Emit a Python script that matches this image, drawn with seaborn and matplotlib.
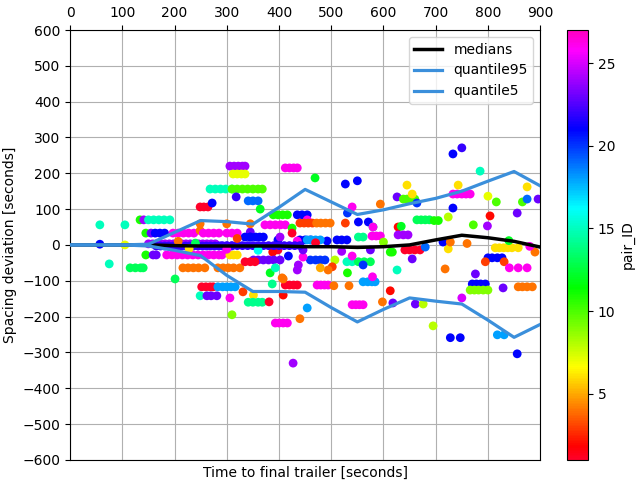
import numpy as np
import pandas as pd
import matplotlib
matplotlib.use("Agg")
import matplotlib.pyplot as plt
import seaborn as sns

# quantile / median curves (every 50 s)
curve_time = [0, 50, 100, 150, 200, 250, 300, 350, 400, 450, 500, 550, 600, 650, 700, 750, 800, 850, 900]
medians = [0, 0, 0, 0, -2, -3, -3, -3, -3, -5, -5, -7, -5, 0, 14, 27, 20, 10, -6]
quantile95 = [0, 0, 0, 2, 35, 68, 65, 58, 105, 155, 120, 85, 98, 115, 130, 150, 178, 205, 165]
quantile5 = [0, 0, 0, -3, -15, -30, -85, -130, -130, -132, -175, -215, -180, -148, -157, -165, -210, -258, -222]

# observed spacing deviations, grouped in runs of constant deviation per pair
run_times = [
    [57], [105], [134], [141], [150, 160, 170, 180, 191],
    [57], [105], [75], [115, 125, 135, 140], [201],
    [145], [155], [163, 172, 181], [197, 207, 217, 227, 237], [249], [255, 265, 275, 285], [300, 310, 320], [345], [345],
    [145], [159, 165], [185, 195, 205, 215, 225, 235, 245, 255, 265, 275, 285, 291], [306, 313, 320],
    [216, 226, 236, 246, 258], [283, 293, 303, 313, 325],
    [249, 256, 264], [272], [268, 278, 288, 298, 310], [310, 320, 330, 340, 350, 360, 368], [318],
    [306, 314, 322, 330, 335], [312, 320, 328, 335], [341, 350, 360], [364],
    [249], [300], [345], [373, 383, 393, 403, 412], [389, 398, 407, 416],
    [412, 420, 428, 435], [469], [527], [550], [594], [626], [645], [638, 645, 652, 660], [655],
    [540], [531], [435, 444, 454], [454], [440, 448, 456, 464], [472, 480, 489, 498],
    [552, 571], [527], [580], [628], [634], [628, 638, 647], [425],
    [552, 561], [578, 586, 594],
    [733], [750], [785], [743], [733, 741, 750, 758, 766], [664], [800], [816],
    [875], [866], [875], [896], [733], [804], [856],
    [664, 672, 680, 688], [697, 705], [724], [772], [799],
    [641, 650, 660, 670], [655], [724], [814, 822, 830, 838, 846, 858], [800, 808, 818, 827],
    [795], [831], [890], [718], [841, 858, 875], [776], [770, 778, 786, 795], [766, 774, 782, 791, 800],
    [829], [858, 866, 875, 885], [750], [661], [676], [695], [728, 747], [818, 831], [856],
    [460, 470, 479, 488], [507], [437], [446], [502], [494], [531], [530, 540], [552, 563, 575],
    [561, 570, 578, 584], [579], [626], [398], [388], [406], [412, 420, 428, 435], [408],
    [473, 480, 487, 494], [505], [534], [454], [540, 547, 554, 561], [598], [613], [618],
    [440], [393, 400, 408, 416], [427], [351, 360, 370, 380, 390, 402],
    [252, 260, 268, 274], [283, 292, 300, 308, 316], [249], [262, 270, 281],
    [331], [351], [341, 350, 360, 368], [381], [306], [310], [383], [393], [335, 345, 354],
    [418], [435], [387], [408],
    [335, 345, 355, 363, 370], [440, 450, 460], [511, 520, 530], [492], [454, 462, 470, 479],
    [398], [435], [402], [425], [580], [613], [714], [728], [540], [575], [617], [446], [561], [479],
    [150, 158, 166, 174, 182, 190, 198, 206, 214, 222, 230, 238, 246, 254, 262, 270, 278],
    [165, 173, 181, 189, 197, 205, 213, 221, 229, 237, 245, 253, 261, 269, 277, 285, 293, 301, 309],
    [290, 300, 310, 320, 330, 340, 350, 360, 370, 380, 390, 400, 410, 420, 430, 440],
    [207], [228], [240], [300], [320], [360], [470], [520], [600], [680], [760], [840], [880],
]
run_dev = [
    56, 56, 70, 70, 70,
    2, 0, -53, -64, -95,
    33, 33, 33, 33, 40, 33, 33, 36, 22,
    -28, -28, -28, -28,
    -64, -64,
    106, 117, 156, 156, 134,
    220, 198, 123, 100,
    59, 59, 59, 56, 84,
    215, 187, 170, 179, 114, 134, 167, 128, 142,
    106, 89, 84, 70, 61, 61,
    64, 61, 50, 50, 52, 28, 47,
    22, 25,
    254, 271, 206, 167, 142, 117, 136, 120,
    162, 120, 128, 128, 103, 81, 89,
    70, 68, 78, 56, 53,
    -14, -39, -11, -8, -36,
    -47, -47, -20, -67, -64, -81, -109, -126,
    -120, -117, -148, -165, -165, -226, -259, -251, -304,
    -42, -42, -56, -34, -61, -70, -78, -47, -47,
    -103, -89, -70, -14, -20, -92, -112, -140,
    -112, -114, -114, -176, -167, -159, -128, -162,
    -206, -218, -330, -42,
    -117, -117, -142, -142,
    -131, -140, -160, -159, -148, -195, -78, -64, -47,
    -31, -70, -109, -95,
    22, 14, 14, 11, 14,
    14, 11, 22, 33, 50, -20, 8, 8, -31, -14, -20, -14, -56, -64,
    3,
    -3,
    -2,
    10, -10, 5, -12, 18, -15, 6, -18, 8, -6, 4, 12, -4,
]
run_pair = [
    15, 15, 11, 24, 15,
    21, 7, 15, 13, 13,
    11, 23, 21, 26, 4, 26, 26, 23, 21,
    11, 23, 26, 6,
    4, 4,
    1, 21, 15, 10, 22,
    24, 7, 19, 12,
    4, 4, 4, 26, 11,
    26, 12, 21, 21, 4, 23, 6, 10, 6,
    26, 20, 21, 26, 3, 4,
    21, 3, 14, 2, 12, 24, 11,
    14, 26,
    21, 22, 15, 6, 26, 20, 7, 10,
    6, 10, 19, 23, 21, 2, 23,
    13, 11, 8, 10, 24,
    1, 23, 6, 6, 21,
    3, 3, 4, 4, 26, 23, 21, 9,
    23, 4, 25, 23, 8, 8, 21, 18, 21,
    20, 8, 24, 26, 3, 4, 11, 15, 13,
    18, 26, 15, 1, 2, 4, 1, 2,
    26, 4, 4, 18, 26, 4, 2, 23,
    4, 26, 24, 23,
    1, 18, 15, 23,
    3, 6, 14, 1, 26, 9, 12, 15, 1,
    21, 24, 14, 4,
    21, 21, 21, 21, 18,
    21, 26, 24, 1, 26, 11, 21, 4, 26, 23, 11, 23, 20, 5,
    24,
    22,
    22,
    4, 6, 13, 26, 3, 16, 1, 24, 9, 19, 4, 12, 26,
]

rows = []
for times, dev, pid in zip(run_times, run_dev, run_pair):
    for t in times:
        rows.append((t, dev, pid))
df = pd.DataFrame(rows, columns=["time", "deviation", "pair_ID"])

fig = plt.figure(figsize=(6.37, 4.8), dpi=100)
ax = fig.add_axes([0.11, 0.042, 0.738, 0.8955])
cax = fig.add_axes([0.89, 0.042, 0.033, 0.8955])

norm = plt.Normalize(1, 27)
sns.scatterplot(data=df, x="time", y="deviation", hue="pair_ID", palette="gist_rainbow",
                hue_norm=norm, s=40, linewidth=0, legend=False, ax=ax, zorder=2)

line_blue = "#3b8fdb"
sns.lineplot(x=curve_time, y=medians, color="black", lw=2.5, label="medians", ax=ax, zorder=3)
sns.lineplot(x=curve_time, y=quantile95, color=line_blue, lw=2.3, label="quantile95", ax=ax, zorder=3)
sns.lineplot(x=curve_time, y=quantile5, color=line_blue, lw=2.3, label="quantile5", ax=ax, zorder=3)

ax.set_xlim(0, 900)
ax.set_ylim(-600, 600)
ax.set_yticks(np.arange(-600, 601, 100))
ax.xaxis.tick_top()
ax.set_xlabel("Time to final trailer [seconds]")
ax.set_ylabel("Spacing deviation [seconds]")
ax.grid(True, color="#b0b0b0", lw=0.8)
ax.set_axisbelow(True)
ax.legend(loc="upper right")

sm = plt.cm.ScalarMappable(cmap="gist_rainbow", norm=norm)
cb = fig.colorbar(sm, cax=cax)
cb.set_ticks([5, 10, 15, 20, 25])
cb.set_label("pair_ID")

fig.savefig("out.png", dpi=100)
